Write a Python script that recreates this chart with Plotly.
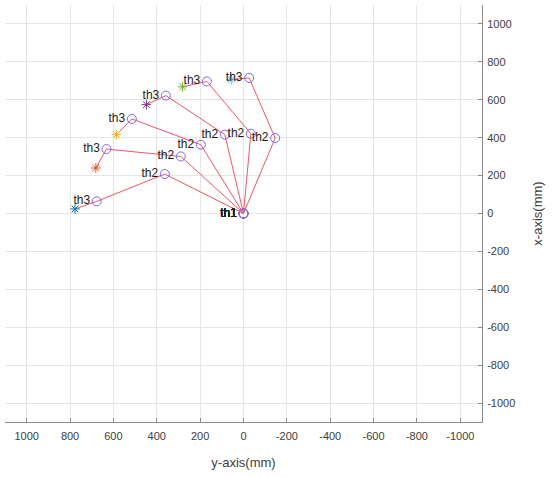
import plotly.graph_objects as go

# Joint positions (mm) for six arm configurations, viewed from above.
# Horizontal axis shows the robot's y coordinate, vertical axis its x coordinate.
th2_y = [363, 289, 197, 86, -34, -146]
th2_x = [208, 301, 363, 416, 421, 398]
th3_y = [677, 632, 515, 358, 169, -26]
th3_x = [64, 340, 499, 622, 697, 715]
tip_y = [777, 681, 586, 448, 281, 57]
tip_x = [24, 240, 416, 574, 668, 706]
tip_colors = ["#0072BD", "#D95319", "#EDB120", "#7E2F8E", "#77AC30", "#4DBEEE"]

tick_vals = [1000, 800, 600, 400, 200, 0, -200, -400, -600, -800, -1000]
tick_text = ["1000", "800", "600", "400", "200", "0", "-200", "-400", "-600", "-800", "-1000"]

link_color = "#EE5566"
joint_color = "#7B6BE6"

fig = go.Figure()

for i in range(len(th2_y)):
    # links: base -> th2 -> th3 -> tip
    fig.add_trace(go.Scatter(
        x=[0, th2_y[i], th3_y[i], tip_y[i]],
        y=[0, th2_x[i], th3_x[i], tip_x[i]],
        mode="lines",
        line=dict(color=link_color, width=1),
        hoverinfo="skip", showlegend=False,
    ))
    # end point
    fig.add_trace(go.Scatter(
        x=[tip_y[i]], y=[tip_x[i]],
        mode="markers",
        marker=dict(symbol="asterisk-open", size=8, color=tip_colors[i],
                    line=dict(width=1)),
        showlegend=False,
    ))
    # joints with labels
    fig.add_trace(go.Scatter(
        x=[0, th2_y[i], th3_y[i]],
        y=[0, th2_x[i], th3_x[i]],
        mode="markers+text",
        text=["th1", "th2", "th3"],
        textposition="middle left",
        textfont=dict(family="Liberation Sans, Arial", size=12, color="#1a1a1a"),
        marker=dict(symbol="circle-open", size=9, color=joint_color,
                    line=dict(width=1)),
        showlegend=False,
    ))

axis_common = dict(
    tickvals=tick_vals, ticktext=tick_text,
    showgrid=True, gridcolor="#e6e6e6", gridwidth=1,
    zeroline=False,
    showline=True, linecolor="#8c8c8c", linewidth=1, mirror=False,
    ticks="inside", ticklen=4, tickcolor="#8c8c8c",
    tickfont=dict(family="Liberation Sans, Arial", size=11, color="#404040"),
    title_font=dict(family="Liberation Sans, Arial", size=13, color="#404040"),
)

fig.update_layout(
    width=554, height=477,
    margin=dict(l=5, r=72, t=5, b=55),
    paper_bgcolor="white", plot_bgcolor="white",
    xaxis=dict(range=[1100, -1100], ticklabelstandoff=4,
               title=dict(text="y-axis(mm)", standoff=16), **axis_common),
    yaxis=dict(range=[-1100, 1100], side="right", ticklabelstandoff=2,
               title=dict(text="x-axis(mm)", standoff=18), **axis_common),
)

fig.write_html("out.html")
